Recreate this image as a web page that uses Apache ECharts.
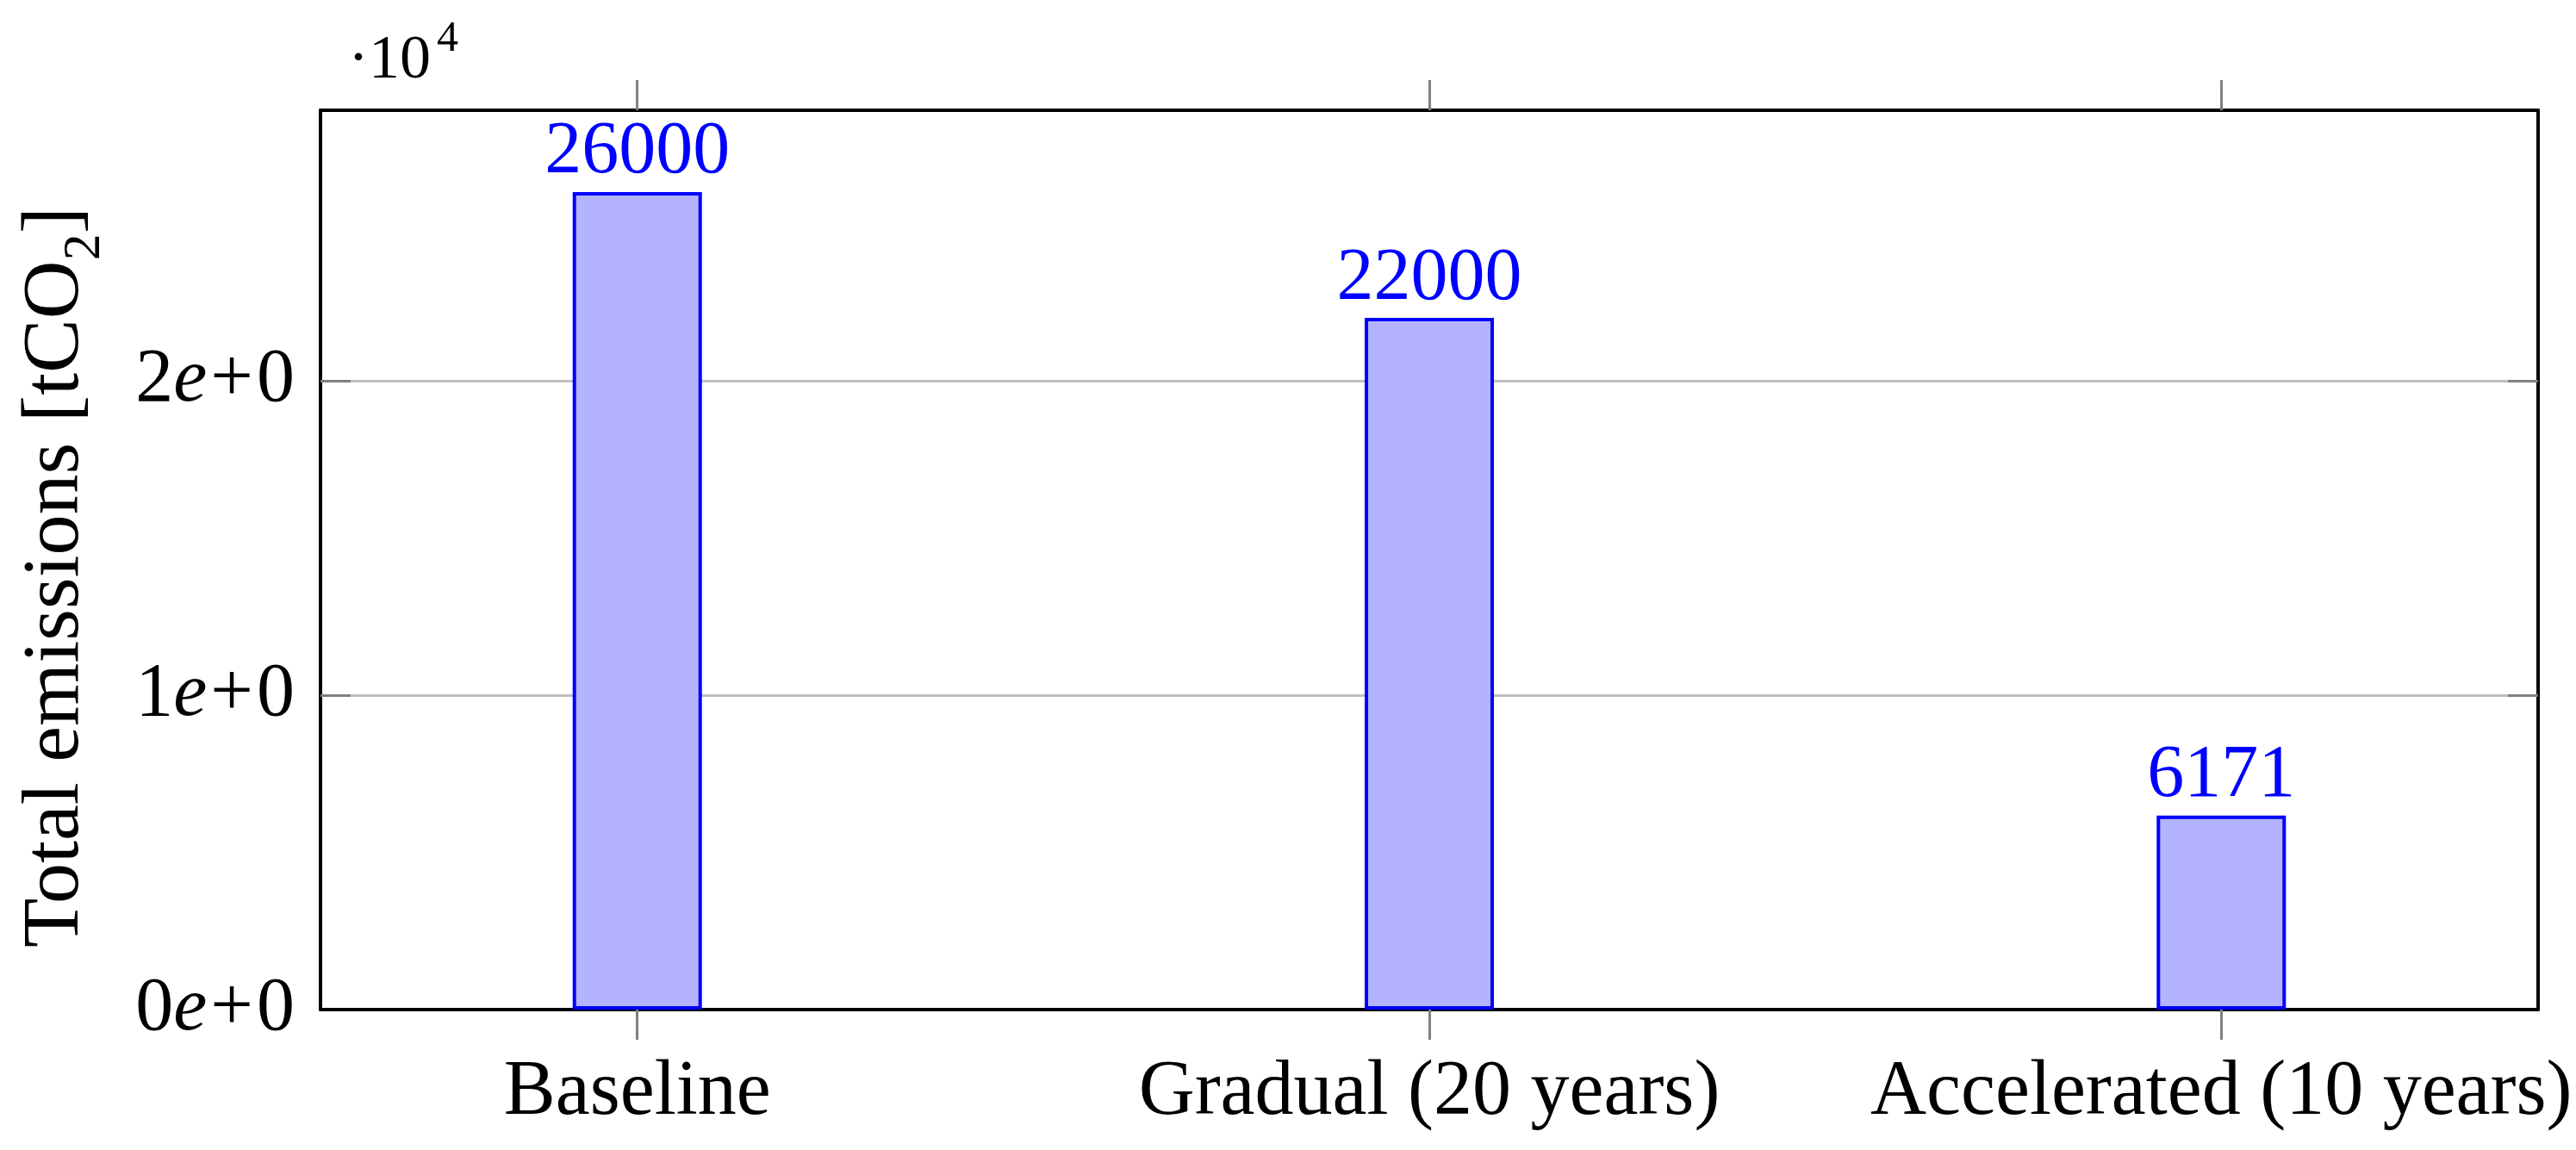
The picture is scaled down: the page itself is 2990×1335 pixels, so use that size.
<!DOCTYPE html>
<html>
<head>
<meta charset="utf-8">
<script src="https://cdn.jsdelivr.net/npm/echarts@6/dist/echarts.min.js"></script>
<style>
html,body{margin:0;padding:0;background:#fff;}
#c{width:2990px;height:1335px;}
</style>
</head>
<body>
<div id="c"></div>
<script>
const categories = ['Baseline', 'Gradual (20 years)', 'Accelerated (10 years)'];
const emissions = [26000, 22000, 6171];
const yTicks = [10000, 20000];
const yLabels = [0, 10000, 20000];
const catPositions = [0, 1, 2];

const FONT = '"Liberation Serif", "DejaVu Serif", serif';
const chart = echarts.init(document.getElementById('c'), null, {renderer: 'canvas'});

const tickStyle = {color: '#808080', width: 3};
const frame = {show: true, onZero: false, lineStyle: {color: '#000', width: 4}};

chart.setOption({
  animation: false,
  backgroundColor: '#fff',
  grid: {left: 372, top: 128, right: 44, bottom: 163, containLabel: false},
  graphic: [
    {type: 'text', x: 404, y: 71, z: 10,
     style: {text: '·10', font: '72px "Liberation Serif"', fill: '#000', verticalAlign: 'middle', align: 'left'}},
    {type: 'text', x: 507, y: 46, z: 10,
     style: {text: '4', font: '50px "Liberation Serif"', fill: '#000', verticalAlign: 'middle', align: 'left'}}
  ],
  xAxis: [
    {
      type: 'value', position: 'bottom', min: -0.4, max: 2.4,
      axisLine: frame,
      splitLine: {show: false},
      axisTick: {show: true, inside: false, length: 35, lineStyle: tickStyle, customValues: catPositions},
      axisLabel: {
        show: true, margin: 52, customValues: catPositions,
        formatter: v => categories[Math.round(v)] || '',
        fontSize: 90, fontFamily: FONT, color: '#000'
      }
    },
    {
      type: 'value', position: 'top', min: -0.4, max: 2.4,
      axisLine: frame,
      splitLine: {show: false},
      axisTick: {show: true, inside: false, length: 35, lineStyle: tickStyle, customValues: catPositions},
      axisLabel: {show: false}
    }
  ],
  yAxis: [
    {
      type: 'value', position: 'left', min: 0, max: 28600, interval: 10000,
      axisLine: frame,
      splitLine: {show: true, lineStyle: {color: '#bfbfbf', width: 3}},
      axisTick: {show: true, inside: true, length: 35, lineStyle: tickStyle, customValues: yTicks},
      axisLabel: {
        show: true, margin: 30, customValues: yLabels,
        formatter: v => (v / 10000) + '{e|e}{p|+}0',
        fontSize: 88, fontFamily: FONT, color: '#000',
        rich: {
          e: {fontSize: 88, fontFamily: FONT, fontStyle: 'italic', color: '#000'},
          p: {fontSize: 88, fontFamily: FONT, color: '#000', padding: [0, 4, 0, 4]}
        }
      },
      name: 'Total emissions [tCO{sub|2}]',
      nameLocation: 'middle', nameRotate: 90, nameGap: 260,
      nameTextStyle: {
        fontSize: 94, fontFamily: FONT, color: '#000', padding: [0, 40, 0, 0],
        rich: {sub: {fontSize: 62, fontFamily: FONT, color: '#000', verticalAlign: 'bottom', padding: [0, 0, -18, 0]}}
      }
    },
    {
      type: 'value', position: 'right', min: 0, max: 28600, interval: 10000,
      axisLine: frame,
      splitLine: {show: false},
      axisTick: {show: true, inside: true, length: 35, lineStyle: tickStyle, customValues: yTicks},
      axisLabel: {show: false}
    }
  ],
  series: [{
    type: 'bar',
    xAxisIndex: 0, yAxisIndex: 0,
    barWidth: 150,
    data: emissions.map((v, i) => [catPositions[i], v]),
    itemStyle: {color: '#b3b3ff', borderColor: '#0000ff', borderWidth: 4},
    label: {
      show: true, position: 'top', distance: 2,
      formatter: p => String(p.value[1]),
      fontSize: 86, fontFamily: FONT, color: '#0000ff'
    },
    z: 3
  }]
});
</script>
</body>
</html>
